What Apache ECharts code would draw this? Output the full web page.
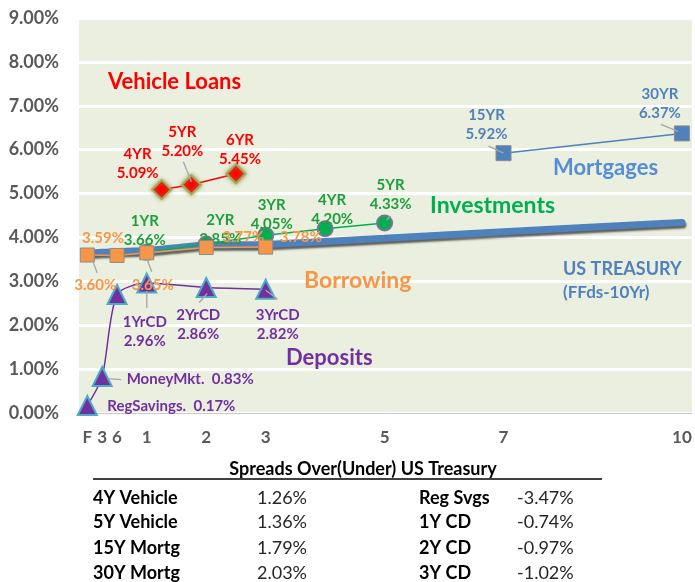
<!DOCTYPE html>
<html>
<head>
<meta charset="utf-8">
<script src="https://cdn.jsdelivr.net/npm/echarts@6/dist/echarts.min.js"></script>
<style>
  html, body { margin: 0; padding: 0; background: #fff; }
  #chart { width: 695px; height: 582px; }
</style>
</head>
<body>
<div id="chart"></div>
<script>
// x positions are in years (F = fed funds at 0, 3 and 6 months at 0.25 / 0.5)
const tickValues = [0, 0.25, 0.5, 1, 2, 3, 5, 7, 10];
const tickLabels = ['F', '3', '6', '1', '2', '3', '5', '7', '10'];

const treasuryX = [0, 0.25, 0.5, 1, 2, 3, 5, 7, 10];
const treasuryY = [3.64, 3.66, 3.68, 3.70, 3.83, 3.84, 3.98, 4.13, 4.34];

const vehicleX = [1.25, 1.75, 2.5];
const vehicleY = [5.09, 5.20, 5.45];
const vehicleNames = ['4YR', '5YR', '6YR'];

const investX = [1, 2, 3, 4, 5];
const investY = [3.66, 3.85, 4.05, 4.20, 4.33];
const investNames = ['1YR', '2YR', '3YR', '4YR', '5YR'];

const borrowX = [0, 0.5, 1, 2, 3];
const borrowY = [3.60, 3.59, 3.65, 3.77, 3.78];

const depositX = [0, 0.25, 0.5, 1, 2, 3];
const depositY = [0.17, 0.83, 2.70, 2.96, 2.86, 2.82];
const depositNames = ['RegSavings.', 'MoneyMkt.', '', '1YrCD', '2YrCD', '3YrCD'];

const mortgX = [7, 10];
const mortgY = [5.92, 6.37];
const mortgNames = ['15YR', '30YR'];

const spreadLeftNames = ['4Y Vehicle', '5Y Vehicle', '15Y Mortg', '30Y Mortg'];
const spreadLeftValues = [1.26, 1.36, 1.79, 2.03];
const spreadRightNames = ['Reg Svgs', '1Y CD', '2Y CD', '3Y CD'];
const spreadRightValues = [-3.47, -0.74, -0.97, -1.02];

const FONT = 'Lato';
const pct = (v) => v.toFixed(2) + '%';
const pts = (xs, ys) => xs.map((x, i) => [x, ys[i]]);

// label offsets (px) from each marker
const labelMoves = {
  vehicle: [[-24, -26], [-9, -43], [4, -24]],
  invest: [[-2, -22], [14, -14], [6, -21], [7, -19], [6, -28]],
  borrow: [[8, 30], [-14, -17], [6, 32], [37, -10], [35, -10]],
  deposit: [[84, 1], [88, 3], [0, 0], [-2, 49], [-8, 37], [12, 35]],
  mortg: [[-17, -29], [-22, -30]],
};
// leader lines: [series, point index, start dx, dy, end dx, dy] in px from the marker
const leaders = [
  ['vehicle', 1, -8, -23, 0, -3],
  ['invest', 4, 2, -3, 6, -7],
  ['borrow', 0, 5, 5, 10, 18],
  ['borrow', 2, 0, 6, 5, 19],
  ['deposit', 1, 5, 2, 19, 3],
  ['deposit', 3, 0, 8, 0, 25],
  ['deposit', 4, 1, 6, -7, 15],
  ['deposit', 5, 0, 1, 12, 10],
  ['mortg', 0, -15, -7, 0, 0],
  ['mortg', 1, -21, -9, -4, -2],
];
const seriesPoints = {
  vehicle: pts(vehicleX, vehicleY),
  invest: pts(investX, investY),
  borrow: pts(borrowX, borrowY),
  deposit: pts(depositX, depositY),
  mortg: pts(mortgX, mortgY),
};

function mover(moves) {
  return (p) => ({ dx: moves[p.dataIndex][0], dy: moves[p.dataIndex][1], hideOverlap: false });
}

const chart = echarts.init(document.getElementById('chart'));

const graphics = [];
const addText = (text, x, y, size, color, weight, align) => {
  graphics.push({
    type: 'text', x: x, y: y,
    style: {
      text: text, fill: color, font: `${weight} ${size}px ${FONT}`,
      textAlign: align || 'left', textVerticalAlign: 'middle',
    },
    z: 100,
  });
};
addText('Vehicle Loans', 108, 82, 22, '#FF0000', 'bold');
addText('Mortgages', 553, 168, 22, '#558ED5', 'bold');
addText('Investments', 430, 206, 23, '#00B050', 'bold');
addText('Borrowing', 304, 281, 23, '#F79646', 'bold');
addText('US TREASURY', 563, 269, 18, '#4F81BD', 'bold');
addText('(FFds-10Yr)', 563, 293, 17, '#4F81BD', 'bold');
addText('Deposits', 286, 358, 22, '#7030A0', 'bold');

addText('Spreads Over(Under) US Treasury', 363, 469, 18, '#000', 'bold', 'center');
graphics.push({
  type: 'line', shape: { x1: 93, y1: 479, x2: 602, y2: 479 },
  style: { stroke: '#000', lineWidth: 1.5 },
});
const rowY = [498, 522, 548, 573];
spreadLeftNames.forEach((n, i) => {
  addText(n, 93, rowY[i], 18, '#000', 'bold');
  addText(pct(spreadLeftValues[i]), 257, rowY[i], 18, '#262626', 'normal');
  addText(spreadRightNames[i], 419, rowY[i], 18, '#000', 'bold');
  addText(pct(spreadRightValues[i]), 517, rowY[i], 18, '#262626', 'normal');
});

const dataLabel = (color, size, fmt) => ({
  show: true, position: 'inside', color: color, fontSize: size, fontWeight: 'bold',
  lineHeight: 19, formatter: fmt,
});

const option = {
  animation: false,
  textStyle: { fontFamily: FONT },
  grid: {
    left: 79, right: 3, top: 18, bottom: 169,
    show: true, backgroundColor: '#EBEFDF', borderWidth: 0,
  },
  xAxis: {
    type: 'value',
    min: -0.14,
    max: 10.17,
    splitLine: { show: false },
    axisLine: { show: true, lineStyle: { color: '#C8C8C8', width: 1 } },
    axisTick: { show: false },
    axisLabel: {
      customValues: tickValues,
      formatter: (v) => tickLabels[tickValues.indexOf(v)],
      margin: 16,
      fontSize: 17,
      fontWeight: 'bold',
      color: '#595959',
      fontFamily: FONT,
    },
  },
  yAxis: {
    type: 'value',
    min: 0,
    max: 9,
    interval: 1,
    axisLine: { show: false },
    axisTick: { show: false },
    splitLine: { show: true, lineStyle: { color: '#FFFFFF', width: 3 } },
    axisLabel: {
      formatter: (v) => pct(v),
      margin: 20,
      fontSize: 18,
      fontWeight: 'bold',
      color: '#595959',
      fontFamily: FONT,
    },
  },
  graphic: graphics,
  series: [
    {
      name: 'US Treasury',
      type: 'line',
      data: pts(treasuryX, treasuryY),
      showSymbol: false,
      smooth: 0.2,
      z: 1,
      lineStyle: {
        color: '#4F81BD', width: 7, cap: 'round',
        shadowColor: 'rgba(0,0,0,0.6)', shadowBlur: 2, shadowOffsetX: 1, shadowOffsetY: 2.5,
      },
    },
    {
      name: 'Vehicle Loans',
      type: 'line',
      data: seriesPoints.vehicle,
      symbol: 'diamond',
      symbolSize: 19,
      z: 5,
      lineStyle: { color: '#FF0000', width: 1.5 },
      itemStyle: { color: '#FF0000', borderColor: '#A5A75E', borderWidth: 2, shadowColor: 'rgba(140,150,70,0.8)', shadowBlur: 4 },
      label: dataLabel('#FF0000', 15, (p) => vehicleNames[p.dataIndex] + '\n' + pct(p.value[1])),
      labelLayout: mover(labelMoves.vehicle),
    },
    {
      name: 'Investments',
      type: 'line',
      data: seriesPoints.invest,
      symbol: 'circle',
      symbolSize: 15,
      z: 5,
      lineStyle: { color: '#00B050', width: 1.5 },
      itemStyle: { color: '#00B050', borderColor: '#7A7494', borderWidth: 2 },
      label: dataLabel('#1E9E3E', 15, (p) => investNames[p.dataIndex] + '\n' + pct(p.value[1])),
      labelLayout: mover(labelMoves.invest),
    },
    {
      name: 'Borrowing',
      type: 'line',
      data: seriesPoints.borrow,
      symbol: 'rect',
      symbolSize: 14,
      z: 6,
      lineStyle: { color: '#F79646', width: 1.5 },
      itemStyle: { color: '#F79646', borderColor: '#8C8C8C', borderWidth: 1 },
      label: dataLabel('#F79646', 15, (p) => pct(p.value[1])),
      labelLayout: mover(labelMoves.borrow),
    },
    {
      name: 'Deposits',
      type: 'line',
      data: seriesPoints.deposit.map((d, i) => ({ value: d, label: { show: depositNames[i] !== '' } })),
      symbol: 'triangle',
      symbolSize: 19,
      smooth: 0.25,
      z: 5,
      lineStyle: { color: '#7030A0', width: 1.5 },
      itemStyle: { color: '#7030A0', borderColor: '#4BACC6', borderWidth: 2 },
      label: dataLabel('#7030A0', 15, (p) => {
        const n = depositNames[p.dataIndex];
        return p.dataIndex < 2 ? n + '  ' + pct(p.value[1]) : n + '\n' + pct(p.value[1]);
      }),
      labelLayout: mover(labelMoves.deposit),
    },
    {
      name: 'Mortgages',
      type: 'line',
      data: seriesPoints.mortg,
      symbol: 'rect',
      symbolSize: 15,
      z: 5,
      lineStyle: { color: '#4F81BD', width: 1.5 },
      itemStyle: { color: '#4F81BD', borderColor: '#8C8C8C', borderWidth: 1 },
      label: dataLabel('#4F81BD', 15, (p) => mortgNames[p.dataIndex] + '\n' + pct(p.value[1])),
      labelLayout: mover(labelMoves.mortg),
    },
    {
      name: 'leaders',
      type: 'custom',
      z: 7,
      silent: true,
      data: leaders.map((l) => seriesPoints[l[0]][l[1]].concat(l.slice(2))),
      encode: { x: 0, y: 1 },
      renderItem: (params, api) => {
        const c = api.coord([api.value(0), api.value(1)]);
        return {
          type: 'line',
          shape: {
            x1: c[0] + api.value(2), y1: c[1] + api.value(3),
            x2: c[0] + api.value(4), y2: c[1] + api.value(5),
          },
          style: { stroke: '#A6A6A6', lineWidth: 1.3 },
        };
      },
    },
  ],
};

chart.setOption(option);
</script>
</body>
</html>
